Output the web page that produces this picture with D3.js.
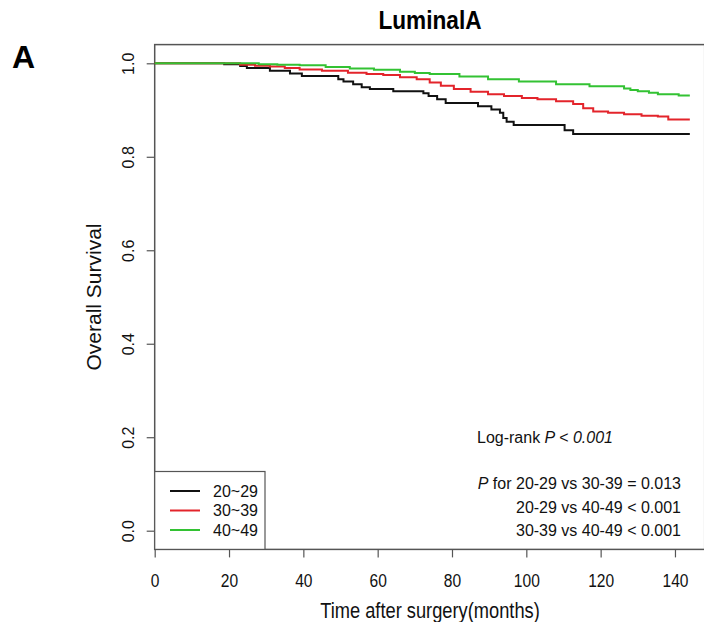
<!DOCTYPE html>
<html>
<head>
<meta charset="utf-8">
<script src="https://cdn.jsdelivr.net/npm/d3@7"></script>
<style>
  body { margin: 0; background: #fff; }
  text { font-family: "Liberation Sans", Arial, sans-serif; }
</style>
</head>
<body>
<div id="chart"></div>
<script>
// survival curves (months, survival)
const times2029 = [0, 18.7, 23, 24.8, 31, 36.4, 39.6, 49.4, 50.8, 53.4, 55.7, 57.9, 64.2, 72.3, 73.7, 76, 78.3, 87, 90.6, 92.9, 93.8, 94.7, 96.6, 110.3, 112.6, 144];
const surv2029 = [1, 0.998, 0.994, 0.990, 0.984, 0.978, 0.973, 0.966, 0.961, 0.955, 0.949, 0.945, 0.940, 0.936, 0.930, 0.923, 0.915, 0.908, 0.901, 0.894, 0.883, 0.875, 0.868, 0.857, 0.849, 0.849];

const times3039 = [0, 23, 27, 31, 35, 39, 45, 52, 57, 61.5, 66, 70.5, 74, 77, 80.5, 85, 89.7, 94, 98.8, 103, 108, 112.6, 115.3, 118, 122, 126.3, 131, 135.4, 138.2, 144];
const surv3039 = [1, 0.997, 0.995, 0.993, 0.990, 0.987, 0.984, 0.980, 0.977, 0.975, 0.970, 0.966, 0.959, 0.952, 0.945, 0.939, 0.934, 0.930, 0.926, 0.923, 0.919, 0.913, 0.904, 0.897, 0.894, 0.891, 0.888, 0.886, 0.880, 0.880];

const times4049 = [0, 28, 33, 39, 46, 52.5, 59, 66, 70, 74, 82, 89.7, 98, 108, 117, 126.3, 128, 130, 133, 135.4, 141, 144];
const surv4049 = [1, 0.998, 0.997, 0.996, 0.992, 0.989, 0.986, 0.982, 0.979, 0.977, 0.972, 0.966, 0.961, 0.955, 0.951, 0.946, 0.943, 0.940, 0.937, 0.934, 0.931, 0.931];

const groups = ["20~29", "30~39", "40~49"];
const xTicks = [0, 20, 40, 60, 80, 100, 120, 140];
const yTicks = [0, 0.2, 0.4, 0.6, 0.8, 1.0];
const pLines = ["P for 20-29 vs 30-39 = 0.013", "20-29 vs 40-49 < 0.001", "30-39 vs 40-49 < 0.001"];

const colors = ["#111111", "#e3242b", "#33c233"];
const series = [
    { name: groups[0], t: times2029, s: surv2029 },
    { name: groups[1], t: times3039, s: surv3039 },
    { name: groups[2], t: times4049, s: surv4049 }
];

const W = 704, H = 622;
const svg = d3.select("#chart").append("svg")
    .attr("width", W)
    .attr("height", H);

// scales
const xScale = d3.scaleLinear().domain([0, 148]).range([154.7, 704.7]);
const yScale = d3.scaleLinear().domain([0, 1]).range([530.7, 63.3]);
const boxTop = yScale(1.04), boxBottom = yScale(-0.04);
const boxLeft = xScale(0), boxRight = xScale(148);

// plot box
svg.append("rect")
    .attr("x", boxLeft).attr("y", boxTop)
    .attr("width", boxRight - boxLeft).attr("height", boxBottom - boxTop)
    .attr("fill", "none")
    .attr("stroke", "#555")
    .attr("stroke-width", 1.5);

// x axis (horizontal text in the figure is a bit squeezed)
const xAxis = svg.append("g")
    .attr("transform", `translate(0,${boxBottom})`)
    .call(d3.axisBottom(xScale).tickValues(xTicks).tickSize(8).tickPadding(16));
xAxis.select(".domain").remove();
xAxis.selectAll(".tick line").attr("stroke", "#555").attr("stroke-width", 1.2);
xAxis.selectAll(".tick text").attr("font-size", 19).attr("fill", "#111")
    .attr("transform", "scale(0.82,1)")
    .style("font-family", "Liberation Sans, Arial, sans-serif");

// y axis
const yAxis = svg.append("g")
    .attr("transform", `translate(${boxLeft},0)`)
    .call(d3.axisLeft(yScale).tickValues(yTicks).tickSize(8).tickFormat(d3.format(".1f")));
yAxis.select(".domain").remove();
yAxis.selectAll(".tick line").attr("stroke", "#555").attr("stroke-width", 1.2);
yAxis.selectAll(".tick text")
    .attr("x", null).attr("dy", null)
    .attr("text-anchor", "middle")
    .attr("transform", "translate(-21,0) rotate(-90)")
    .attr("font-size", 16).attr("fill", "#111")
    .style("font-family", "Liberation Sans, Arial, sans-serif");

// survival lines
const line = d3.line()
    .x(d => xScale(d[0]))
    .y(d => yScale(d[1]))
    .curve(d3.curveStepAfter);

svg.selectAll(".km")
    .data(series)
    .enter().append("path")
    .attr("class", "km")
    .attr("d", d => line(d.t.map((t, i) => [t, d.s[i]])))
    .attr("fill", "none")
    .attr("stroke", (d, i) => colors[i])
    .attr("stroke-width", 2);

// legend
const legendTop = 471.5, legendRight = 265;
svg.append("rect")
    .attr("x", boxLeft).attr("y", legendTop)
    .attr("width", legendRight - boxLeft).attr("height", boxBottom - legendTop)
    .attr("fill", "#fff")
    .attr("stroke", "#555")
    .attr("stroke-width", 1.2);

const legendRows = [491, 510.5, 530];
groups.forEach((g, i) => {
    svg.append("line")
        .attr("x1", 170).attr("x2", 200)
        .attr("y1", legendRows[i]).attr("y2", legendRows[i])
        .attr("stroke", colors[i]).attr("stroke-width", 2);
    svg.append("text")
        .attr("x", 213).attr("y", legendRows[i] + 5.5)
        .attr("font-size", 16).attr("fill", "#111")
        .text(g);
});

// log-rank annotation
const lr = svg.append("text")
    .attr("x", 477).attr("y", 443)
    .attr("font-size", 16).attr("fill", "#111");
lr.append("tspan").text("Log-rank ");
lr.append("tspan").attr("font-style", "italic").text("P");
lr.append("tspan").attr("font-style", "italic").text(" < 0.001");

const pRows = [489, 512.5, 536];
const p0 = svg.append("text")
    .attr("x", 681).attr("y", pRows[0])
    .attr("text-anchor", "end")
    .attr("font-size", 16).attr("fill", "#111");
p0.append("tspan").attr("font-style", "italic").text("P");
p0.append("tspan").text(pLines[0].slice(1));
pLines.slice(1).forEach((t, i) => {
    svg.append("text")
        .attr("x", 681).attr("y", pRows[i + 1])
        .attr("text-anchor", "end")
        .attr("font-size", 16).attr("fill", "#111")
        .text(t);
});

// titles
svg.append("text")
    .attr("transform", "translate(430,29) scale(0.87,1)")
    .attr("text-anchor", "middle")
    .attr("font-size", 26).attr("font-weight", "bold")
    .text("LuminalA");

svg.append("text")
    .attr("x", 12).attr("y", 68)
    .attr("font-size", 32).attr("font-weight", "bold")
    .text("A");

svg.append("text")
    .attr("transform", `translate(101,${(boxTop + boxBottom) / 2}) rotate(-90)`)
    .attr("text-anchor", "middle")
    .attr("font-size", 21).attr("fill", "#111")
    .text("Overall Survival");

svg.append("text")
    .attr("transform", "translate(430,618) scale(0.85,1)")
    .attr("text-anchor", "middle")
    .attr("font-size", 21.5).attr("fill", "#111")
    .text("Time after surgery(months)");
</script>
</body>
</html>
